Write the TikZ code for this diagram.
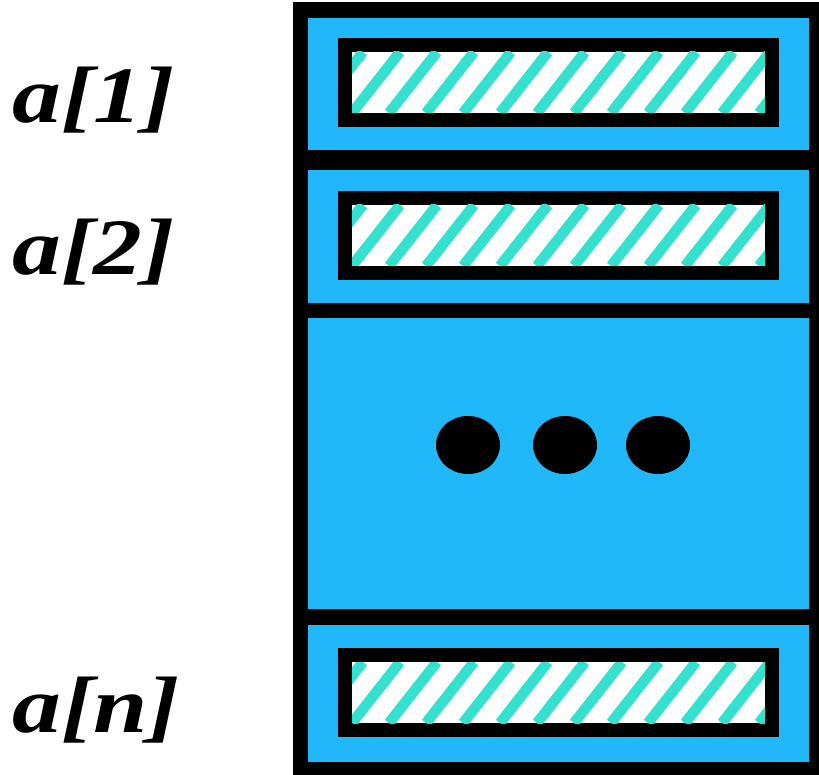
\documentclass[tikz,border=0pt]{standalone}
\usepackage{fontspec}
\setmainfont{Liberation Serif}
\usetikzlibrary{positioning}
\definecolor{cellblue}{RGB}{32,184,248}
\definecolor{hatchteal}{RGB}{52,224,206}

\begin{document}
\begin{tikzpicture}[
    x=1pt, y=-1pt,
    frame/.style={fill=black},
    cell/.style={fill=cellblue},
    slot/.style={fill=white},
    stripe/.style={draw=hatchteal, line width=10.5pt},
    dot/.style={fill=black},
    idx/.style={anchor=base west, inner sep=0pt,
        font=\fontsize{80}{80}\selectfont\bfseries\itshape}
]
    \useasboundingbox (0,0) rectangle (819,775);

    % outer frame and the four cells
    \fill[frame] (293,2) rectangle (819,775);
    \foreach \ya/\yb in {18/150, 170/303, 318/609, 625/762}
        \fill[cell] (308,\ya) rectangle (809,\yb);

    % hatched element slots
    \foreach \ya in {38, 191, 648} {
        \fill[frame] (338,\ya) rectangle (779,\ya+89);
        \begin{scope}
            \clip (352,\ya+14) rectangle (765,\ya+75);
            \fill[slot] (352,\ya+14) rectangle (765,\ya+75);
            \foreach \k in {-2,...,12}
                \draw[stripe] (352+\k*37,\ya+75) -- ++(48,-61);
        \end{scope}
    }

    % dots
    \foreach \xd in {468, 565, 658}
        \fill[dot] (\xd,445) ellipse [x radius=32, y radius=29];

    % index labels
    \node[idx] (a1) at (12,123) {\scalebox{1.22}[1]{a[1]}};
    \node[idx] (a2) at (12,275) {\scalebox{1.22}[1]{a[2]}};
    \node[idx] (an) at (12,732) {\scalebox{1.22}[1]{a[n]}};
\end{tikzpicture}
\end{document}
